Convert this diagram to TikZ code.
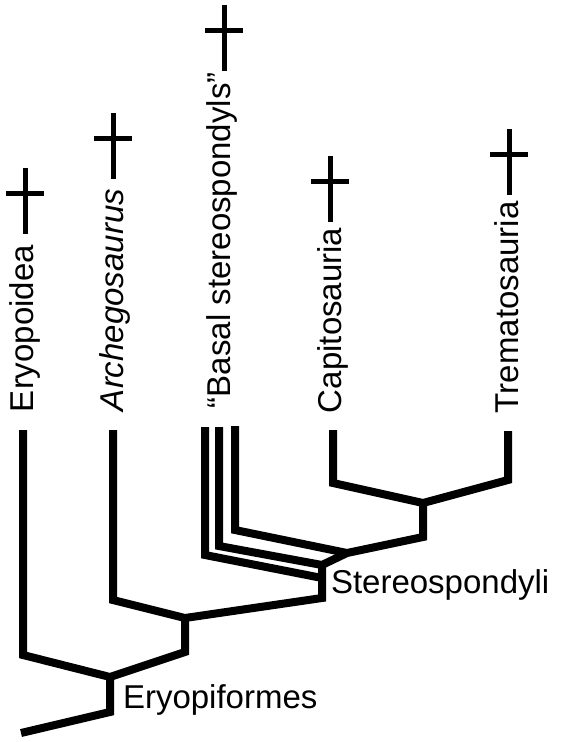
\documentclass[tikz,border=0pt]{standalone}
\usepackage{fontspec}
\setmainfont{Liberation Sans}
\begin{document}
\begin{tikzpicture}[x=1pt,y=-1pt,
  branch/.style={line width=8pt, line join=miter, line cap=butt},
  crossline/.style={line width=5pt, line cap=butt},
  lab/.style={inner sep=0pt, outer sep=0pt, font=\fontsize{33}{39}\selectfont},
  vlab/.style={lab, rotate=90, anchor=base west}]
\fill[white] (0,0) rectangle (564,742);
\useasboundingbox (0,0) rectangle (564,742);

% labels
\node[vlab] (eryo) at (33,412) {Eryopoidea};
\node[vlab] (arch) at (123,411) {\itshape Archegosaurus};
\node[vlab] (basal) at (230,408) {“Basal stereospondyls”};
\node[vlab] (capi) at (341,413) {Capitosauria};
\node[vlab] (trem) at (518,413) {Trematosauria};
\node[lab, anchor=base west] (eryf) at (123,708) {Eryopiformes};
\node[lab, anchor=base west] (ster) at (331,593) {Stereospondyli};

% tree coordinates
\coordinate (r0) at (21,733);
\coordinate (r1) at (110,712);
\coordinate (eN) at (110,677);
\coordinate (eL) at (23,655);
\coordinate (eT) at (23,430);
\coordinate (aN0) at (185,652);
\coordinate (aN) at (185,618);
\coordinate (aL) at (113,600);
\coordinate (aT) at (113,430);
\coordinate (sB) at (322,598);
\coordinate (sM) at (322,565);
\coordinate (sJ) at (347,553);
\coordinate (cN0) at (423,537);
\coordinate (cN) at (423,503);
\coordinate (cL) at (333,483);
\coordinate (cT) at (333,430);
\coordinate (tR) at (508,480);
\coordinate (tT) at (508,431);
\coordinate (b1T) at (205,427);
\coordinate (b1B) at (205,555);
\coordinate (b1E) at (322,578);
\coordinate (b2T) at (219,427);
\coordinate (b2B) at (219,546);
\coordinate (b3T) at (235,426);
\coordinate (b3B) at (235,530);

% branches
\draw[branch] (r0) -- (r1) -- (eN);
\draw[branch] (eT) -- (eL) -- (eN) -- (aN0) -- (aN);
\draw[branch] (aT) -- (aL) -- (aN) -- (sB) -- (sM) -- (sJ) -- (cN0) -- (cN);
\draw[branch] (cT) -- (cL) -- (cN) -- (tR) -- (tT);
\draw[branch] (b1T) -- (b1B) -- (b1E);
\draw[branch] (b2T) -- (b2B) -- (sM);
\draw[branch] (b3T) -- (b3B) -- (sJ);

% extinction crosses
\foreach \nm/\cx/\cy in {eryo/25/168, arch/113/113, basal/224/5, capi/330/156, trem/509/129}{
  \coordinate (\nm-top) at (\cx,\cy);
  \coordinate (\nm-bot) at (\cx,\cy+66);
  \coordinate (\nm-bl) at (\cx-19,\cy+25);
  \coordinate (\nm-br) at (\cx+19,\cy+25);
  \draw[crossline] (\nm-top) -- (\nm-bot);
  \draw[crossline] (\nm-bl) -- (\nm-br);
}
\end{tikzpicture}
\end{document}
